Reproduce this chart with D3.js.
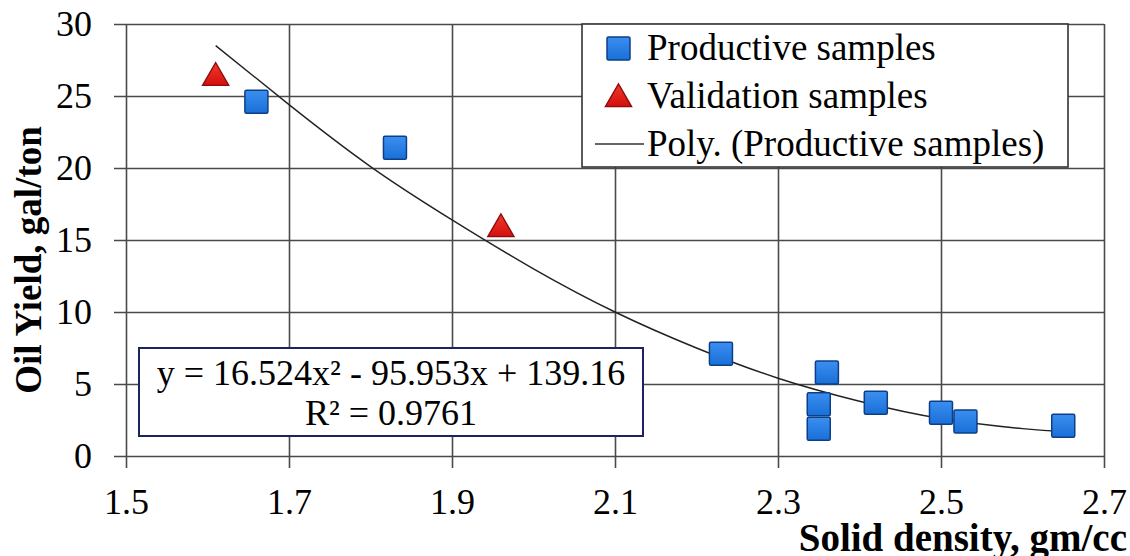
<!DOCTYPE html>
<html>
<head>
<meta charset="utf-8">
<script src="https://cdn.jsdelivr.net/npm/d3@7"></script>
</head>
<body style="margin:0;background:#fff;position:relative;width:1130px;height:556px;overflow:hidden">
<svg id="chart" width="1130" height="556" style="display:block;position:absolute;left:0;top:0"></svg>
<div id="overlay" style="position:absolute;left:0;top:0;width:1130px;height:556px"></div>
<script>
// ---- data ----
const productiveX = [1.66, 1.83, 2.23, 2.36, 2.35, 2.35, 2.42, 2.50, 2.53, 2.65];
const productiveY = [24.6, 21.4, 7.1, 5.8, 3.6, 1.9, 3.7, 3.0, 2.4, 2.1];
const validationX = [1.61, 1.96];
const validationY = [26.4, 15.9];
// trend curve as drawn in the picture (read points)
const trendX = [1.61, 1.70, 1.80, 1.90, 2.00, 2.10, 2.20, 2.30, 2.40, 2.50, 2.60, 2.65];
const trendY = [28.5, 24.4, 20.1, 16.4, 13.0, 10.0, 7.5, 5.4, 3.8, 2.6, 1.9, 1.7];
const xTicks = [1.5, 1.7, 1.9, 2.1, 2.3, 2.5, 2.7];
const yTicks = [0, 5, 10, 15, 20, 25, 30];
const legendLabels = ["Productive samples", "Validation samples", "Poly. (Productive samples)"];
const equationLines = ["y = 16.524x\u00B2 - 95.953x + 139.16", "R\u00B2 = 0.9761"];
const xTitle = "Solid density, gm/cc";
const yTitle = "Oil Yield, gal/ton";

// ---- layout ----
const FONT = "Liberation Serif";
const svg = d3.select("#chart");
const overlay = d3.select("#overlay");
const L = 126, R = 1104, T = 24, B = 456, OUT = 12;
const x = d3.scaleLinear().domain([1.5, 2.7]).range([L, R]);
const y = d3.scaleLinear().domain([0, 30]).range([B, T]);
const gridColor = "#4a4a4a";

// Y axis with gridlines
const yAxis = d3.axisLeft(y).tickValues(yTicks).tickFormat(d3.format("d"))
  .tickSizeInner(-(R - L + OUT)).tickSizeOuter(0).tickPadding(22);
const gy = svg.append("g").attr("transform", `translate(${L - OUT},0)`).call(yAxis)
  .attr("font-family", FONT).attr("font-size", 36);
gy.select(".domain").remove();
gy.selectAll(".tick line").attr("stroke", gridColor).attr("stroke-width", 1.6);
gy.selectAll(".tick text").attr("font-family", FONT).attr("font-size", 36).attr("fill", "#000");

// X axis with gridlines
const xAxis = d3.axisBottom(x).tickValues(xTicks).tickFormat(d3.format(".1f"))
  .tickSizeInner(-(B + OUT - T)).tickSizeOuter(0).tickPadding(20);
const gx = svg.append("g").attr("transform", `translate(0,${B + OUT})`).call(xAxis)
  .attr("font-family", FONT).attr("font-size", 36);
gx.select(".domain").remove();
gx.selectAll(".tick line").attr("stroke", gridColor).attr("stroke-width", 1.6);
gx.selectAll(".tick text").attr("font-family", FONT).attr("font-size", 36).attr("fill", "#000");

// Axis titles
svg.append("text").attr("x", 1127).attr("y", 551).attr("text-anchor", "end")
  .attr("font-family", FONT).attr("font-size", 39).attr("font-weight", "bold").text(xTitle);
svg.append("text").attr("transform", "translate(41,260) rotate(-90)").attr("text-anchor", "middle")
  .attr("font-family", FONT).attr("font-size", 37).attr("font-weight", "bold").text(yTitle);

// defs for marker shading
const defs = svg.append("defs");
const bg = defs.append("linearGradient").attr("id", "blueG").attr("x1", 0).attr("y1", 0).attr("x2", 0).attr("y2", 1);
bg.append("stop").attr("offset", "0%").attr("stop-color", "#3b8ff0");
bg.append("stop").attr("offset", "100%").attr("stop-color", "#1a6fd8");
const rg = defs.append("linearGradient").attr("id", "redG").attr("x1", 0).attr("y1", 0).attr("x2", 0).attr("y2", 1);
rg.append("stop").attr("offset", "0%").attr("stop-color", "#f03a2a");
rg.append("stop").attr("offset", "100%").attr("stop-color", "#d40f0f");

// Trend line
const line = d3.line().x(d => x(d[0])).y(d => y(d[1])).curve(d3.curveNatural);
svg.append("path").datum(trendX.map((v, i) => [v, trendY[i]]))
  .attr("d", line).attr("fill", "none").attr("stroke", "#222").attr("stroke-width", 1.4);

// Productive squares
const S = 23;
svg.append("g").selectAll("rect").data(productiveX.map((v, i) => [v, productiveY[i]])).join("rect")
  .attr("x", d => x(d[0]) - S / 2).attr("y", d => y(d[1]) - S / 2)
  .attr("width", S).attr("height", S).attr("rx", 1.5)
  .attr("fill", "url(#blueG)").attr("stroke", "#0d3f86").attr("stroke-width", 1.5);

// Validation triangles
const tri = d3.symbol().type(d3.symbolTriangle).size(300);
svg.append("g").selectAll("path").data(validationX.map((v, i) => [v, validationY[i]])).join("path")
  .attr("d", tri).attr("transform", d => `translate(${x(d[0])},${y(d[1]) + 2})`)
  .attr("fill", "url(#redG)").attr("stroke", "#8a0c0c").attr("stroke-width", 1.3);

// Legend box and symbols (SVG), labels (HTML)
const lg = svg.append("g");
lg.append("rect").attr("x", 582).attr("y", 24).attr("width", 486).attr("height", 143)
  .attr("fill", "#fff").attr("stroke", "#333").attr("stroke-width", 1.6);
lg.append("rect").attr("x", 607).attr("y", 37).attr("width", S).attr("height", S).attr("rx", 1.5)
  .attr("fill", "url(#blueG)").attr("stroke", "#0d3f86").attr("stroke-width", 1.5);
lg.append("path").attr("d", tri).attr("transform", "translate(618.5,99)")
  .attr("fill", "url(#redG)").attr("stroke", "#8a0c0c").attr("stroke-width", 1.3);
lg.append("line").attr("x1", 595).attr("x2", 644).attr("y1", 144).attr("y2", 144)
  .attr("stroke", "#333").attr("stroke-width", 1.4);
const legendTops = [29, 77, 125];
overlay.selectAll("div.leg").data(legendLabels).join("div").attr("class", "leg")
  .style("position", "absolute").style("left", "647px").style("top", (d, i) => legendTops[i] + "px")
  .style("font-family", "'Liberation Serif'").style("font-size", "37px").style("line-height", "37px")
  .style("white-space", "nowrap").style("color", "#000").text(d => d);

// Equation box (SVG rect), text (HTML)
svg.append("rect").attr("x", 139).attr("y", 348).attr("width", 504).attr("height", 88)
  .attr("fill", "#fff").attr("stroke", "#1c2360").attr("stroke-width", 2);
const eqTops = [355, 395];
overlay.selectAll("div.eq").data(equationLines).join("div").attr("class", "eq")
  .style("position", "absolute").style("left", "139px").style("width", "504px")
  .style("top", (d, i) => eqTops[i] + "px").style("text-align", "center")
  .style("font-family", "'Liberation Serif'").style("font-size", "36px").style("line-height", "36px")
  .style("white-space", "nowrap").style("color", "#000").text(d => d);
</script>
</body>
</html>
